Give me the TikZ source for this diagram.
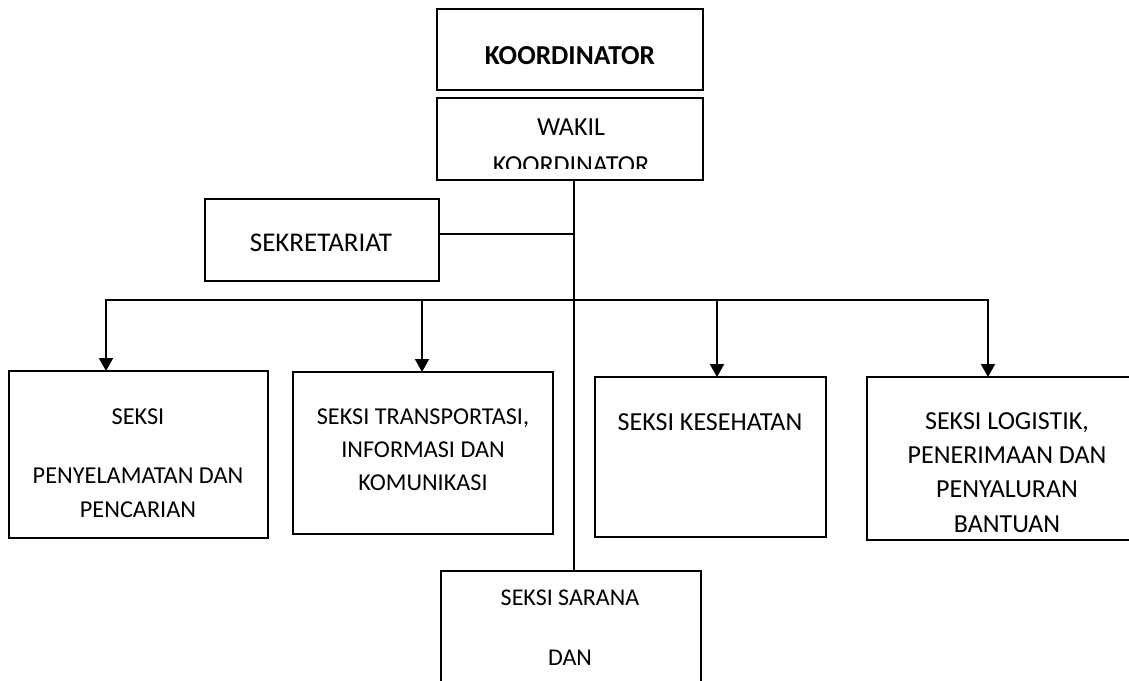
\documentclass[tikz,border=0pt]{standalone}
\usepackage{fontspec}
\setmainfont{Carlito}
\usetikzlibrary{arrows.meta}
\tikzset{
  box/.style={draw=black, line width=2pt, rectangle, inner sep=0pt, outer sep=0pt, anchor=north west},
  lbl/.style={anchor=base, inner sep=0pt, font=\fontsize{#1}{28}\selectfont},
  lbl/.default=24,
  conn/.style={draw=black, line width=2pt},
  arr/.style={conn, -{Triangle[width=14pt,length=13pt]}}
}
\begin{document}
\begin{tikzpicture}[x=1pt,y=-1pt]
\useasboundingbox (0,0) rectangle (1129,680);
\fill[white] (0,0) rectangle (1129,680);
% boxes
\node[box, minimum width=266pt, minimum height=81pt] (koor) at (437,9) {};
\node[box, minimum width=266pt, minimum height=82pt] (wakil) at (437,98) {};
\node[box, minimum width=234pt, minimum height=82pt] (sekre) at (205,199) {};
\node[box, minimum width=259pt, minimum height=167pt] (s1) at (9,371) {};
\node[box, minimum width=260pt, minimum height=162pt] (s2) at (293,372) {};
\node[box, minimum width=231pt, minimum height=160pt] (s3) at (595,377) {};
\node[box, minimum width=280pt, minimum height=163pt] (s4) at (867,377) {};
\node[box, minimum width=260pt, minimum height=140pt] (s5) at (441,571) {};
% texts
\node[anchor=base, inner sep=0pt, font=\fontsize{27.4}{30}\selectfont\bfseries] (tkoor) at (570,64) {KOORDINATOR};
\node[lbl=26] (twakil) at (571,135.4) {WAKIL};
\begin{scope}
\clip (437,98) rectangle (703,168);
\node[lbl=26] (twakilb) at (571,173.7) {KOORDINATOR};
\end{scope}
\node[lbl=27] (tsekre) at (321,251.7) {SEKRETARIAT};
\node[lbl=24.3] (t1a) at (138,424.8) {SEKSI};
\node[lbl=24.3] (t1b) at (138,483.8) {PENYELAMATAN DAN};
\node[lbl=24.3] (t1c) at (138,517.8) {PENCARIAN};
\node[lbl=24.2] (t2a) at (423,424.8) {SEKSI TRANSPORTASI,};
\node[lbl=24.2] (t2b) at (423,457.8) {INFORMASI DAN};
\node[lbl=24.2] (t2c) at (423,490.8) {KOMUNIKASI};
\node[lbl=26] (t3a) at (710,430.4) {SEKSI KESEHATAN};
\node[lbl=26] (t4a) at (1007,429.4) {SEKSI LOGISTIK,};
\node[lbl=26] (t4b) at (1007,463.4) {PENERIMAAN DAN};
\node[lbl=26] (t4c) at (1007,497.4) {PENYALURAN};
\node[lbl=26] (t4d) at (1007,532.4) {BANTUAN};
\node[lbl=24] (t5a) at (570,605.7) {SEKSI SARANA};
\node[lbl=24] (t5b) at (570,665.7) {DAN};
% connectors
\coordinate (spine) at (574,0);
\coordinate (sekj) at (574,234);
\coordinate (busL) at (106,300);
\coordinate (b2) at (422,300);
\coordinate (b3) at (717,300);
\coordinate (busR) at (988,300);
\draw[conn] (wakil.south -| spine) -- (s5.north -| spine);
\draw[conn] (sekj -| sekre.east) -- (sekj);
\draw[arr] (b2) -- (busL) -- (busL |- s1.north);
\draw[arr] (b2) -- (busR) -- (busR |- s4.north);
\draw[arr] (b2) -- (b2 |- s2.north);
\draw[arr] (b3) -- (b3 |- s3.north);
\end{tikzpicture}
\end{document}
